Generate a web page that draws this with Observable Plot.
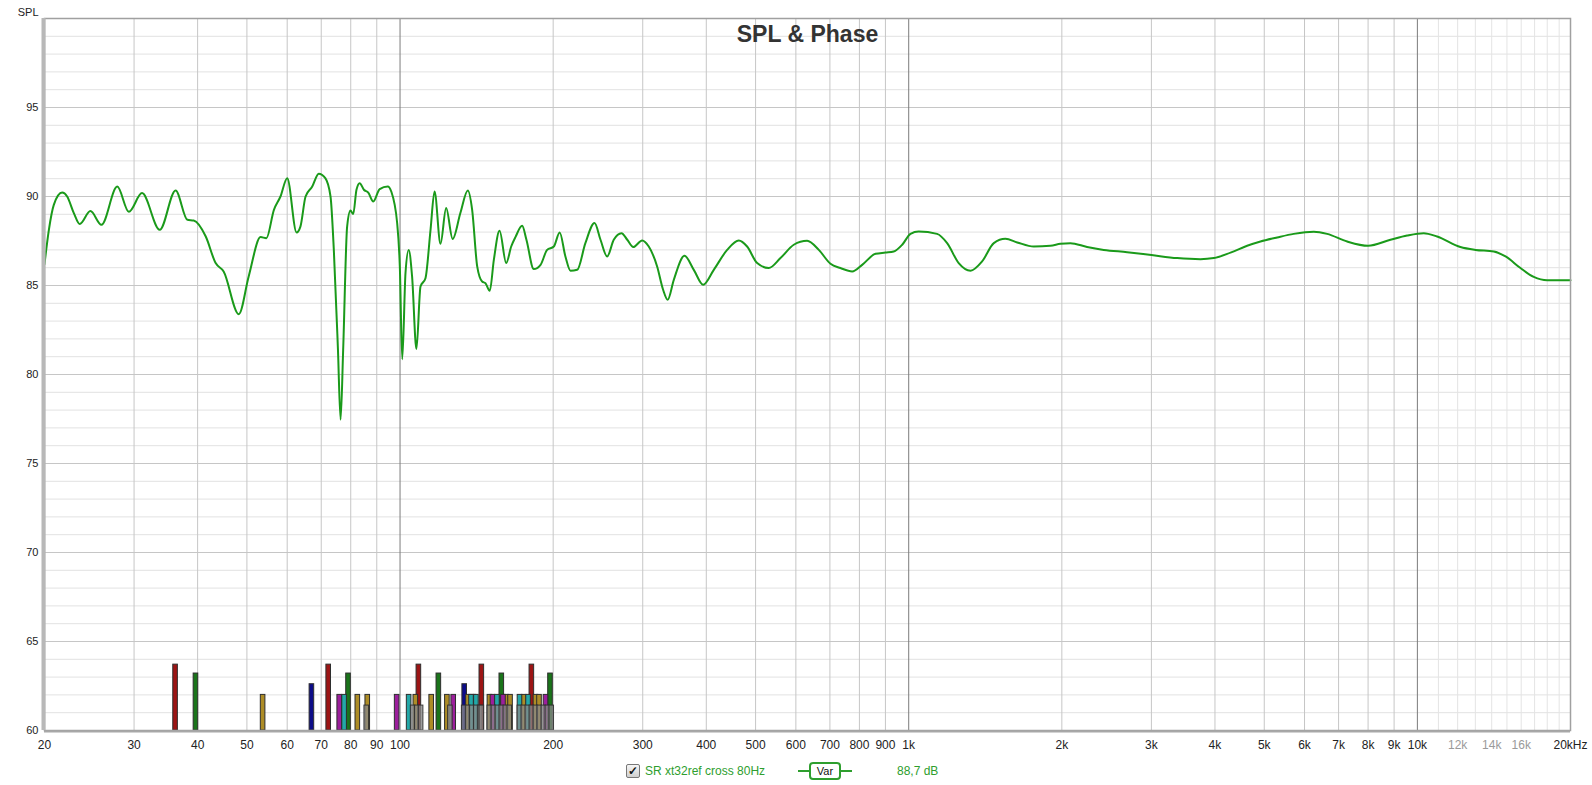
<!DOCTYPE html>
<html>
<head>
<meta charset="utf-8">
<script src="https://cdn.jsdelivr.net/npm/d3@7"></script>
<script src="https://cdn.jsdelivr.net/npm/@observablehq/plot@0.6"></script>
<style>
html,body{margin:0;padding:0;background:#fff;overflow:hidden}
#wrap{position:relative;width:1592px;height:785px;font-family:"Liberation Sans",Arial,sans-serif}
#chart{height:760px}
#chart svg{display:block}
#legend{position:relative;width:1592px;height:25px;font-size:12px;color:#2e9e2e}
#legend div{position:absolute;white-space:nowrap}
#legend #chk{left:626px;top:4px;width:12px;height:12px;border:1px solid #777;border-radius:2px;background:linear-gradient(#f6f6f6,#cfcfcf);color:#111;font-size:12px;line-height:12px;text-align:center;font-weight:bold}
#legend #lbl{left:645px;top:4px;line-height:14px}
#legend #varline{left:798px;top:10px;width:54px;height:0;border-top:2px solid #2e9e2e}
#legend #varbox{left:809px;top:2px;width:28px;height:14px;border:2px solid #2e9e2e;border-radius:4px;background:#fff;color:#111;font-size:11px;line-height:14px;text-align:center}
#legend #val{left:897px;top:4px;line-height:14px}
</style>
</head>
<body>
<div id="wrap"><div id="chart"></div>
<div id="legend">
  <div id="chk">✓</div>
  <div id="lbl">SR xt32ref cross 80Hz</div>
  <div id="varline"></div>
  <div id="varbox">Var</div>
  <div id="val">88,7 dB</div>
</div>
</div>
<script>
// ---- Measured SPL curve (Hz, dB) ----
const freqHz = [20,20.4,20.86,21.66,22.16,22.84,23.46,24.62,25.88,27.8,29.3,31.1,33.7,36.2,38.2,39.3,41.5,43.4,45.0,48.2,50.4,53.2,54.6,56.5,58.2,60.0,62.6,63.7,65.2,67.2,69.2,71.3,73.0,74.1,75.5,76.4,77.3,78.7,79.9,80.9,82.1,83.3,84.9,86.6,88.6,91.2,94.6,96.1,98.7,99.9,101.0,102.5,104.0,105.6,107.7,109.7,112.2,114.8,116.9,120.1,123.2,126.9,131.4,135.9,138.6,141.8,145.0,147.2,150.1,152.9,156.9,161.7,165.4,168.6,173.8,177.2,183.2,188.9,194.6,200.6,206,211.4,216.3,223,231.4,241.2,247.8,255.4,263.1,272.5,279.7,287.4,299.2,308.3,320.2,329.0,335.9,345.3,362.4,378,394.4,413.8,439.6,463.4,481.2,503.6,530.6,559.6,594.4,631.4,665.6,701.8,734.2,774.2,810,860.4,900,934.4,971,1008,1046,1137,1190,1254,1323,1394,1470,1549,1634,1761,1899,1987,2079,2242,2418,2688,3000,3371,3746,3980,4292,4628,4916,5302,5714,6257,6646,7278,8000,8851,9548,10292,10934,12149,13008,14134,14904,15946,16936,17990,20000];
const splDb = [86.2,88.13,89.53,90.22,90.0,89.07,88.45,89.18,88.41,90.56,89.14,90.19,88.13,90.34,88.69,88.65,87.75,86.26,85.79,83.39,85.51,87.72,87.66,89.25,90.0,91.03,87.98,88.31,90.0,90.56,91.28,91.03,90.0,87.0,81.39,77.46,81.39,88.31,89.21,89.01,90.38,90.75,90.38,90.22,89.72,90.42,90.56,90.28,88.51,86.07,80.86,85.70,87.0,85.51,81.43,84.94,85.41,88.13,90.28,87.34,89.35,87.61,89.07,90.34,89.25,86.07,85.22,85.13,84.70,86.44,88.07,86.26,87.19,87.72,88.35,87.57,85.92,86.16,87.0,87.19,87.98,86.63,85.83,85.88,87.38,88.51,87.57,86.63,87.57,87.94,87.57,87.16,87.53,87.19,86.07,84.76,84.20,85.32,86.67,85.88,85.04,85.88,87.0,87.53,87.19,86.26,85.98,86.54,87.29,87.51,87.0,86.22,85.98,85.79,86.16,86.78,86.85,86.91,87.29,87.90,88.03,87.90,87.38,86.26,85.83,86.35,87.38,87.62,87.42,87.19,87.23,87.34,87.38,87.16,87.0,86.87,86.71,86.54,86.48,86.54,86.85,87.23,87.47,87.70,87.90,88.02,87.90,87.47,87.23,87.57,87.81,87.94,87.75,87.16,87.0,86.91,86.63,85.98,85.48,85.29,85.29];

// ---- Filter marker bars (Hz) by kind ----
const filterKinds  = ["kindA","kindB","kindC","kindD","kindE","kindF","kindG"];
const filterLevels = [63.7, 63.2, 62.6, 62.0, 62.0, 62.0, 61.4];
const kindAHz = [36.2,72.4,108.9,144.8,181.6];                       // dark red
const kindBHz = [39.7,79.2,119.2,158.5,197.6];                       // dark green
const kindCHz = [67.1,134.0];                                        // navy
const kindDHz = [53.8,82.6,86.4,107.4,115.4,123.9,136.3,150.2,161.9,164.9,175.4,185.0,188.0]; // ochre
const kindEHz = [76.1,98.7,127.5,139.7,152.3,159.7,193.6];           // purple
const kindFHz = [77.8,104.2,138.2,141.3,155.4,172.1,178.9];          // teal
const kindGHz = [86.0,106.1,108.1,110.0,125.6,133.7,136.1,138.6,141.2,143.7,144.8,150.1,152.9,155.7,158.5,161.4,164.3,172.0,175.1,178.3,181.6,184.9,188.2,191.7,195.2,198.7]; // gray
const filterColors = ["#9c1414","#1a741a","#0c0c88","#ad8c26","#9c1f9c","#23a8a8","#8a8a8a"];

// ---- Axes / grid ----
const xDomain = [20, 20000];
const yDomain = [60, 100];
const xTickValues = [20,30,40,50,60,70,80,90,100,200,300,400,500,600,700,800,900,1000,2000,3000,4000,5000,6000,7000,8000,9000,10000,20000];
const xTickLabels = ["20","30","40","50","60","70","80","90","100","200","300","400","500","600","700","800","900","1k","2k","3k","4k","5k","6k","7k","8k","9k","10k","20kHz"];
const xGrayTickValues = [12000,14000,16000];
const xGrayTickLabels = ["12k","14k","16k"];
const gridHz   = [30,40,50,60,70,80,90,200,300,400,500,600,700,800,900,2000,3000,4000,5000,6000,7000,8000,9000];
const decadeHz = [100,1000,10000];
const fineHz   = [11000,12000,13000,14000,15000,16000,17000,18000,19000];
const yTickValues = [60,65,70,75,80,85,90,95];
const yMinorDb = d3.range(61, 100).filter(v => v % 5 !== 0);
const yMajorDb = [65,70,75,80,85,90,95];

const curve = freqHz.map((f, i) => ({f, db: splDb[i]}));
const perKind = [kindAHz, kindBHz, kindCHz, kindDHz, kindEHz, kindFHz, kindGHz];
const bars = [];
perKind.forEach((arr, k) => arr.forEach(f => bars.push({f, level: filterLevels[k], kind: filterKinds[k]})));
const grayBars = bars.filter(b => b.kind === "kindG");
const colorBars = bars.filter(b => b.kind !== "kindG");
const halfW = Math.pow(10, 2.3 / 508.7); // ~2.3px half-width on the log axis

const barOpts = {
  x1: d => d.f / halfW, x2: d => d.f * halfW, y1: yDomain[0], y2: "level",
  fill: "kind", stroke: "#2e2e2e", strokeWidth: 1
};
const xLabels = xTickValues.map((v, i) => ({v, t: xTickLabels[i]}));
const xGrayLabels = xGrayTickValues.map((v, i) => ({v, t: xGrayTickLabels[i]}));

const chart = Plot.plot({
  width: 1592, height: 760,
  marginLeft: 44, marginRight: 22, marginTop: 18, marginBottom: 30,
  x: {type: "log", domain: xDomain, axis: null},
  y: {domain: yDomain, axis: null},
  color: {type: "ordinal", domain: filterKinds, range: filterColors},
  style: {fontFamily: "Liberation Sans, Arial, sans-serif", fontSize: "12px", color: "#222", background: "white"},
  marks: [
    Plot.ruleY(yMinorDb, {stroke: "#e2e2e2", strokeWidth: 1}),
    Plot.ruleX(fineHz, {stroke: "#e4e4e4", strokeWidth: 1}),
    Plot.ruleY(yMajorDb, {stroke: "#c6c6c6", strokeWidth: 1}),
    Plot.ruleX(gridHz, {stroke: "#c6c6c6", strokeWidth: 1}),
    Plot.ruleX(decadeHz, {stroke: "#7c7c7c", strokeWidth: 1}),
    Plot.rect(colorBars, barOpts),
    Plot.rect(grayBars, {...barOpts, fillOpacity: 0.75, strokeOpacity: 0.9}),
    Plot.line(curve, {x: "f", y: "db", stroke: "#1a9a1a", strokeWidth: 2, curve: "monotone-x"}),
    Plot.frame({stroke: "#a0a0a0", strokeWidth: 1.5}),
    Plot.ruleX([xDomain[0]], {stroke: "#b8b8b8", strokeWidth: 4, dx: -1}),
    Plot.ruleY([yDomain[0]], {stroke: "#a8a8a8", strokeWidth: 2, dy: 1}),
    Plot.axisY(yTickValues, {tickSize: 0, tickPadding: 6, fontSize: 11, label: null}),
    Plot.text(xLabels, {x: "v", text: "t", frameAnchor: "bottom", lineAnchor: "middle", dy: 15, fontSize: 12, fill: "#222"}),
    Plot.text(xGrayLabels, {x: "v", text: "t", frameAnchor: "bottom", lineAnchor: "middle", dy: 15, fontSize: 12, fill: "#9a9a9a"}),
    Plot.text(["SPL & Phase"], {frameAnchor: "top", dy: 7, fontSize: 23, fontWeight: "bold", fill: "#333"}),
    Plot.text(["SPL"], {frameAnchor: "top-left", dx: -6, dy: -10, textAnchor: "end", fontSize: 11, fill: "#222"})
  ]
});
document.getElementById("chart").appendChild(chart);
</script>
</body>
</html>
